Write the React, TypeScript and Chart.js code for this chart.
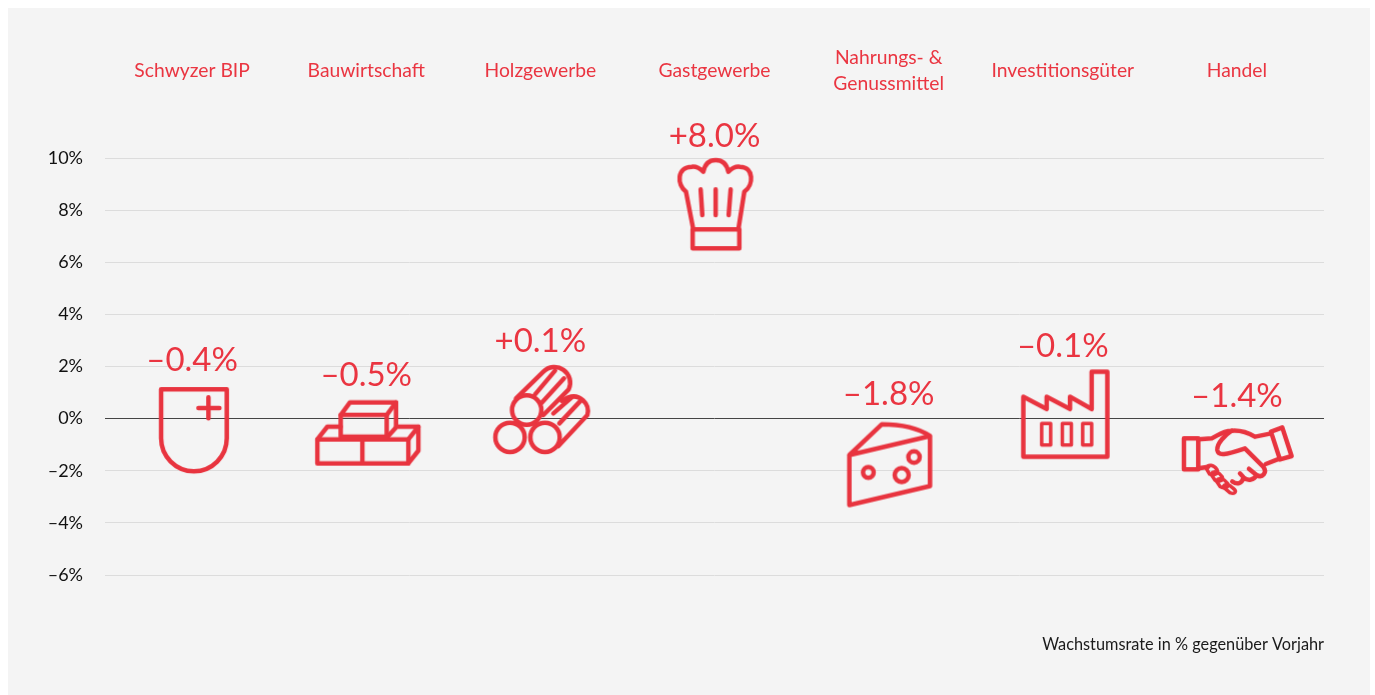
import React, { useEffect, useRef } from "react";
import { Chart, registerables } from "chart.js";

Chart.register(...registerables);

const categories: (string | string[])[] = [
  "Schwyzer BIP",
  "Bauwirtschaft",
  "Holzgewerbe",
  "Gastgewerbe",
  ["Nahrungs- &", "Genussmittel"],
  "Investitionsgüter",
  "Handel",
];
const growth = [-0.4, -0.5, 0.1, 8.0, -1.8, -0.1, -1.4];
const axisMin = -6;
const axisMax = 10;
const axisStep = 2;
const footnote = "Wachstumsrate in % gegenüber Vorjahr";

const RED = "#E8343F";
const TEXT_RED = "#EA3541";
const FONT = "Lato, 'Open Sans', sans-serif";

type Icon = { ox: number; oy: number; gap: number; paths: string[]; thin?: string[] };

// Pictograms, drawn in a 3x local grid around an anchor (ox, oy) that sits on the value.
const icons: Icon[] = [
  {
    ox: 186, oy: 327, gap: 68.5,
    paths: ["M93 208 H290 V355 A98.5 98.5 0 0 1 93 355 Z", "M205 264 H268 M235 232 V295"],
  },
  {
    ox: 708.6, oy: 335, gap: 56.5,
    paths: [
      "M562 358 H835 V430 H562 Z M697 358 V430",
      "M835 430 L865 392 V320 L835 358",
      "M562 358 L592 320 H632",
      "M775 348 L800 320 H865",
      "M632 285 H770 V350 H632 Z",
      "M632 285 L660 247 H798 L770 285",
      "M798 247 V320",
    ],
  },
  {
    ox: 151, oy: 168, gap: 74.5,
    paths: [
      "M154 150 A44 44 0 1 1 66 150 A44 44 0 1 1 154 150 Z",
      "M104 232 A44 44 0 1 1 16 232 A44 44 0 1 1 104 232 Z",
      "M209 232 A44 44 0 1 1 121 232 A44 44 0 1 1 209 232 Z",
      "M78 115 L160 35 A47 47 0 0 1 236 88 L160 165",
      "M135 103 L195 32 M155 128 L222 55",
      "M215 122 L235 112 A44 44 0 0 1 292 165 L205 258",
      "M190 160 L245 112 M208 190 L272 122",
    ],
  },
  {
    ox: 193.5, oy: 300, gap: 73.5,
    paths: [
      "M130 358 L108 245 C80 225 80 170 125 170 C140 168 150 175 160 185 C165 160 180 150 197 150 C215 150 230 160 235 185 C245 175 255 168 270 170 C312 170 312 225 283 245 L265 358",
      "M128 358 H268 V415 H128 Z",
      "M152 238 L157 315 M197 238 V315 M242 238 L236 315",
    ],
  },
  {
    ox: 176, oy: 406.5, gap: 71,
    paths: [
      "M58 375 L155 283 C210 283 265 295 300 318 L58 375 V525 L300 468 V318",
      "M131 427 A16 16 0 1 1 99 427 A16 16 0 1 1 131 427 Z",
      "M236 435 A21 21 0 1 1 194 435 A21 21 0 1 1 236 435 Z",
      "M269 381 A17 17 0 1 1 235 381 A17 17 0 1 1 269 381 Z",
    ],
  },
  {
    ox: 698.4, oy: 273.6, gap: 75,
    paths: ["M580 380 V200 L650 237 V200 L720 237 V200 L785 237 V125 H832 V380 Z"],
    thin: ["M635 280 H662 V345 H635 Z M697 280 H724 V345 H697 Z M758 280 H785 V345 H758 Z"],
  },
  {
    ox: 186, oy: 105, gap: 59,
    paths: [
      "M27 55 H70 V148 H27 Z",
      "M288 35 L322 22 L350 108 L315 118 Z",
      "M70 58 L110 55 C125 50 140 32 170 32 C195 30 215 35 240 50 L288 40",
      "M170 32 C150 45 125 70 127 90 C130 108 150 105 210 85 L265 140 C278 158 262 175 245 165 L222 146",
      "M315 115 L272 132",
      "M70 145 L100 140",
      "M245 165 C238 180 218 184 206 172 L195 160 M206 172 C200 192 186 194 172 184",
    ],
    thin: [
      "M94 145 C100 130 116 135 126 148 C134 162 116 167 104 162 Z",
      "M108 162 C116 150 132 156 142 170 C148 182 130 187 120 180 Z",
      "M124 182 C132 170 146 175 158 190 C164 202 146 207 136 200 Z",
      "M144 200 C150 190 162 192 174 204 C188 214 180 224 165 218 Z",
    ],
  },
];

function makeIcon(icon: Icon): HTMLCanvasElement {
  const c = document.createElement("canvas");
  c.width = 140;
  c.height = 140;
  const ctx = c.getContext("2d")!;
  ctx.translate(70, 70);
  ctx.scale(1 / 3, 1 / 3);
  ctx.translate(-icon.ox, -icon.oy);
  ctx.strokeStyle = RED;
  ctx.lineJoin = "round";
  ctx.lineCap = "round";
  ctx.lineWidth = 13.5;
  icon.paths.forEach((d) => ctx.stroke(new Path2D(d)));
  ctx.lineWidth = 10.5;
  (icon.thin || []).forEach((d) => ctx.stroke(new Path2D(d)));
  return c;
}

const formatValue = (v: number) =>
  (v > 0 ? "+" : v < 0 ? "–" : "") + Math.abs(v).toFixed(1) + "%";

const valueLabels = {
  id: "valueLabels",
  afterDatasetsDraw(chart: Chart) {
    const ctx = chart.ctx;
    const meta = chart.getDatasetMeta(0);
    ctx.save();
    ctx.font = `400 33px ${FONT}`;
    ctx.fillStyle = TEXT_RED;
    ctx.textAlign = "center";
    ctx.textBaseline = "middle";
    meta.data.forEach((pt: any, i: number) => {
      ctx.fillText(formatValue(growth[i]), pt.x, pt.y - icons[i].gap);
    });
    ctx.restore();
  },
};

export default function App() {
  const ref = useRef<HTMLCanvasElement>(null);
  useEffect(() => {
    const chart = new Chart(ref.current!, {
      type: "line",
      data: {
        labels: categories as any,
        datasets: [
          {
            data: growth,
            showLine: false,
            pointStyle: icons.map(makeIcon) as any,
            pointRadius: 40,
            pointHoverRadius: 40,
          },
        ],
      },
      plugins: [valueLabels],
      options: {
        animation: false,
        responsive: false,
        clip: false as any,
        layout: { padding: { left: 0, right: 46, top: 36, bottom: 40.8 } },
        plugins: {
          legend: { display: false },
          tooltip: { enabled: false },
          title: {
            display: true,
            text: footnote,
            position: "bottom",
            align: "end",
            color: "#1A1A1A",
            font: { family: FONT, size: 16.3, weight: "400" as any, lineHeight: 19.2 / 16.3 },
            padding: { top: 60, bottom: 0 },
          },
        },
        scales: {
          x: {
            position: "top",
            offset: true,
            grid: { display: false, drawTicks: false },
            border: { display: false },
            afterFit: (s: any) => {
              s.height = 114;
            },
            ticks: {
              color: TEXT_RED,
              font: { family: FONT, size: 19.3, weight: "400" as any, lineHeight: 26 / 19.3 },
              padding: 74,
              crossAlign: "center",
              maxRotation: 0,
              autoSkip: false,
            },
          },
          y: {
            min: axisMin,
            max: axisMax,
            grid: {
              drawTicks: false,
              color: (c: any) => (c.tick.value === 0 ? "#444444" : "#DCDCDC"),
              lineWidth: 1,
            },
            border: { display: false },
            afterFit: (s: any) => {
              s.width = 97;
            },
            ticks: {
              stepSize: axisStep,
              color: "#111111",
              font: { family: FONT, size: 18, weight: "400" as any },
              padding: 22,
              callback: (v: any) => (v < 0 ? "–" + Math.abs(v) : v) + "%",
            },
          },
        },
      },
    });
    return () => chart.destroy();
  }, []);
  return (
    <div style={{ position: "absolute", left: 8, top: 8, width: 1362, height: 687, background: "#F4F4F4" }}>
      <canvas ref={ref} width={1362} height={687} style={{ display: "block" }} />
    </div>
  );
}
